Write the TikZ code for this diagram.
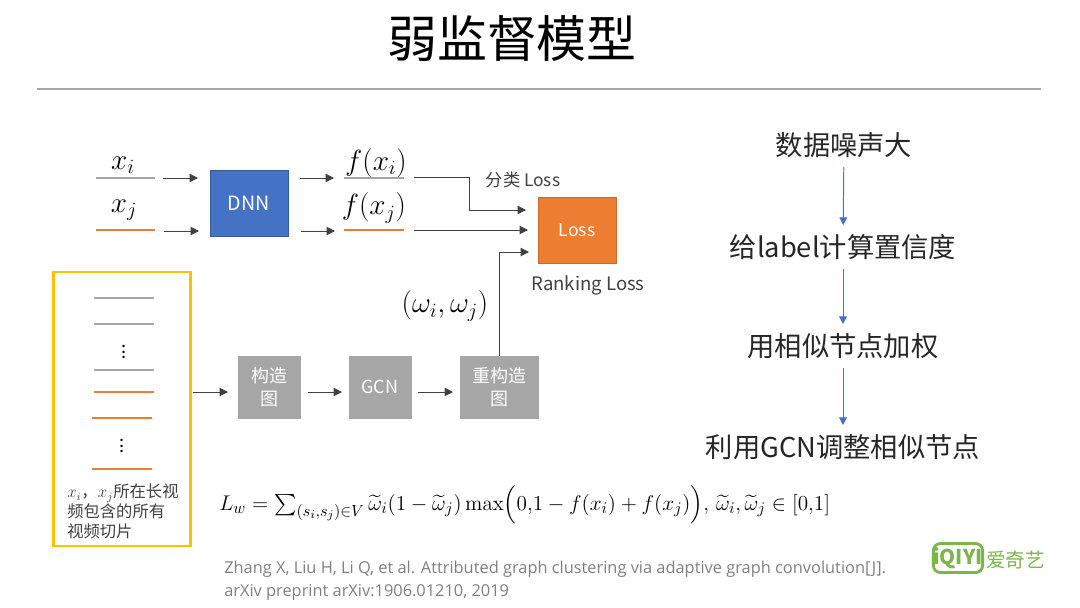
\documentclass[tikz,border=0pt]{standalone}
\usepackage[no-math]{fontspec}
\usepackage{amsmath}
\setmainfont{Noto Sans CJK SC}
\newfontfamily\citefont{Open Sans}
\usetikzlibrary{arrows.meta}
\definecolor{rulegray}{HTML}{A6A6A6}
\definecolor{dnnblue}{HTML}{4472C4}
\definecolor{lossorange}{HTML}{ED7D31}
\definecolor{framegold}{HTML}{FFC000}
\definecolor{inkgray}{HTML}{404040}
\definecolor{citegray}{HTML}{7F7F7F}
\definecolor{logogreen}{HTML}{7AB648}
\newcommand{\pxfont}[1]{\fontsize{#1}{#1}\selectfont}
\tikzset{
  blockbox/.style = {draw=#1, fill=#1, text=white, minimum width=78\unitpx, minimum height=66\unitpx, inner sep=0pt, align=center},
  grayline/.style = {draw=rulegray, line width=1.9pt},
  orangeline/.style = {draw=lossorange, line width=1.9pt},
  stepnode/.style = {text=black!85, inner sep=0pt, minimum height=24\unitpx, font=\pxfont{19.4}},
  flowarrow/.style = {draw=black!75, line width=0.7pt, -{Triangle[length=6pt,width=6pt]}},
}
\newcommand{\unitpx}{*0.7113pt}
\begin{document}
\begin{tikzpicture}[x=0.025cm, y=-0.025cm]
\useasboundingbox (0,0) rectangle (1080,607);
% title
\node[font=\pxfont{35.5}, text=black] (title) at (512,39) {弱监督模型};
\coordinate (ruleL) at (37,89);
\coordinate (ruleR) at (1041,89);
\draw[draw=rulegray, line width=1.6pt] (ruleL) -- (ruleR);
% top row
\begin{scope}[every node/.style = {inner sep=0pt, font=\pxfont{22}}]
\node (xi) at (123,165) {$x_i$};
\node (xj) at (124,210) {$x_j$};
\node (fxi) at (376,163) {$f(x_i)$};
\node (fxj) at (374,208) {$f(x_j)$};
\node[font=\pxfont{20.5}] (wij) at (445,306) {$(\omega_i,\omega_j)$};
\end{scope}
\coordinate (xiL) at (96,178);
\coordinate (xiR) at (155,178);
\coordinate (xjL) at (96,230);
\coordinate (xjR) at (155,230);
\coordinate (fxiL) at (344,178);
\coordinate (fxiR) at (404,178);
\coordinate (fxjL) at (344,230);
\coordinate (fxjR) at (404,230);
\draw[grayline] (xiL) -- (xiR);
\draw[orangeline] (xjL) -- (xjR);
\draw[grayline] (fxiL) -- (fxiR);
\draw[orangeline] (fxjL) -- (fxjR);
\node[blockbox=dnnblue, draw=dnnblue!80!black, font=\pxfont{14}] (dnn) at (249,203) {DNN};
\node[blockbox=lossorange, draw=lossorange!85!black, font=\pxfont{12.5}] (loss) at (577,230) {Loss};
\node[text=inkgray, font=\pxfont{12.3}, inner sep=0pt] (clsloss) at (523,180) {分类 Loss};
\node[text=inkgray, font=\pxfont{13.2}, inner sep=0pt] (rankloss) at (588,285) {Ranking Loss};
% slices
\node[draw=framegold, line width=1.5pt, minimum width=137\unitpx, minimum height=274\unitpx, inner sep=0pt] (frame) at (122,409) {};
\coordinate (s1L) at (94,298);
\coordinate (s1R) at (154,298);
\coordinate (s2L) at (94,324);
\coordinate (s2R) at (154,324);
\coordinate (s3L) at (94,370);
\coordinate (s3R) at (154,370);
\coordinate (s4L) at (94,392);
\coordinate (s4R) at (154,392);
\coordinate (s5L) at (92,418);
\coordinate (s5R) at (152,418);
\coordinate (s6L) at (92,469);
\coordinate (s6R) at (152,469);
\draw[grayline] (s1L) -- (s1R);
\draw[grayline] (s2L) -- (s2R);
\draw[grayline] (s3L) -- (s3R);
\draw[orangeline] (s4L) -- (s4R);
\draw[orangeline] (s5L) -- (s5R);
\draw[orangeline] (s6L) -- (s6R);
\node[inner sep=0pt, font=\pxfont{13}] (dots1) at (124,348) {$\vdots$};
\node[inner sep=0pt, font=\pxfont{13}] (dots2) at (122,442) {$\vdots$};
\node[anchor=north west, inner sep=0pt, align=left, text=inkgray, font=\pxfont{11.6}] (framenote) at (67,484) {$x_i$，$x_j$所在长视\\[-0.5pt]频包含的所有\\[3pt]视频切片};
% gcn row
\node[blockbox=gray!70, minimum width=62\unitpx, minimum height=62\unitpx, font=\pxfont{12.8}] (build) at (269,387) {构造\\[3.6pt]图};
\node[blockbox=gray!70, minimum width=62\unitpx, minimum height=62\unitpx, font=\pxfont{12.8}] (gcn) at (380,387) {GCN};
\node[blockbox=gray!70, minimum height=62\unitpx, font=\pxfont{12.8}] (rebuild) at (499,387) {重构造\\[3.6pt]图};
% arrows
\coordinate (a1L) at (163,178);
\coordinate (a1R) at (198,178);
\coordinate (a2L) at (164,231);
\coordinate (a2R) at (199,231);
\coordinate (a3L) at (300,178);
\coordinate (a3R) at (334,178);
\coordinate (a4L) at (301,231);
\coordinate (a4R) at (335,231);
\coordinate (a5L) at (193,392);
\coordinate (a5R) at (228,392);
\coordinate (a6L) at (308,392);
\coordinate (a6R) at (342,392);
\coordinate (a7L) at (418,392);
\coordinate (a7R) at (453,392);
\coordinate (c1L) at (414,177);
\coordinate (c1M) at (469,210);
\coordinate (c1R) at (526,210);
\coordinate (c2L) at (414,230);
\coordinate (c2R) at (528,230);
\coordinate (c3R) at (529,252);
\begin{scope}[every edge/.style = {flowarrow}]
\path (a1L) edge (a1R);
\path (a2L) edge (a2R);
\path (a3L) edge (a3R);
\path (a4L) edge (a4R);
\path (a5L) edge (a5R);
\path (a6L) edge (a6R);
\path (a7L) edge (a7R);
\path (c2L) edge (c2R);
\end{scope}
\draw[flowarrow] (c1L) -| (c1M) -- (c1R);
\draw[flowarrow] (rebuild.north) |- (c3R);
% formula
\node[anchor=base west, inner sep=0pt, font=\pxfont{15.4}, transform shape, xscale=1.05, yscale=-1.05, yscale=-1] (formula) at (219,510) {$L_w=\sum_{(s_i,s_j)\in V}\widetilde{\omega}_i(1-\widetilde{\omega}_j)\max\Bigl(0{,}1-f(x_i)+f(x_j)\Bigr),\,\widetilde{\omega}_i,\widetilde{\omega}_j\in[0{,}1]$};
% citation
\node[anchor=north west, inner sep=0pt, align=left, text=citegray, font=\citefont\pxfont{11.65}] (cite) at (224,561) {Zhang X, Liu H, Li Q, et al. Attributed graph clustering via adaptive graph convolution[J].\\[4.7pt]arXiv preprint arXiv:1906.01210, 2019};
% right column
\node[stepnode] (step1) at (844,145) {数据噪声大};
\node[stepnode] (step2) at (843,247) {给label计算置信度};
\node[stepnode] (step3) at (843,346) {用相似节点加权};
\node[stepnode] (step4) at (843,447) {利用GCN调整相似节点};
\begin{scope}[every edge/.style = {draw=dnnblue, line width=0.7pt, -{Triangle[length=5.5pt,width=5.5pt]}, shorten <=9\unitpx, shorten >=9\unitpx}]
\path (step1) edge (step2);
\path (step2) edge (step3);
\path (step3) edge (step4);
\end{scope}
% logo
\node[draw=logogreen, line width=2pt, rounded corners=5pt, text=logogreen, font=\bfseries\pxfont{14.5}, minimum width=47\unitpx, minimum height=29\unitpx, inner sep=0pt] (logo) at (958,558) {iQIYI};
\node[text=logogreen, font=\pxfont{14}, inner sep=0pt, anchor=west] (logotext) at (986,560) {爱奇艺};
\end{tikzpicture}
\end{document}
